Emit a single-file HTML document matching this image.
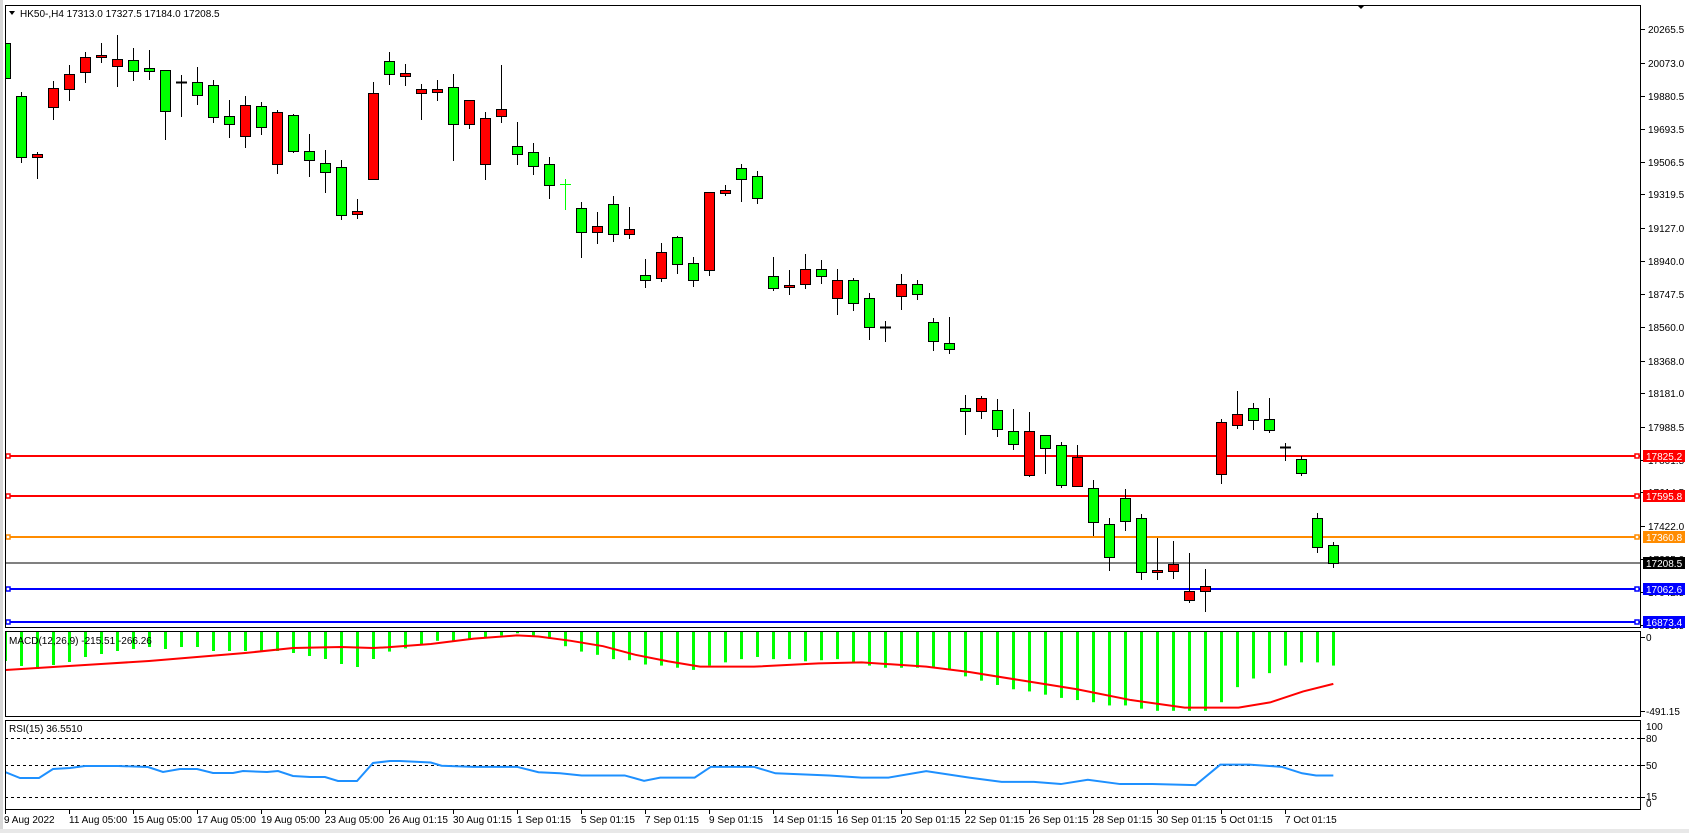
<!DOCTYPE html>
<html><head><meta charset="utf-8"><style>
html,body{margin:0;padding:0;background:#fff;}
svg{display:block;font-family:"Liberation Sans",Arial,sans-serif;font-size:10px;}
</style></head><body>
<svg id="s" width="1689" height="833" viewBox="0 0 1689 833" xmlns="http://www.w3.org/2000/svg">
<rect width="1689" height="833" fill="#fff"/>
<rect x="0" y="0" width="3" height="833" fill="#d8d8d8"/>
<rect x="0" y="829" width="1689" height="4" fill="#e8e8e8"/>
<defs><clipPath id="cm"><rect x="5.5" y="5.5" width="1635" height="622"/></clipPath>
<clipPath id="cd"><rect x="5.5" y="631.5" width="1635" height="85"/></clipPath>
<clipPath id="cr"><rect x="5.5" y="720.5" width="1635" height="89"/></clipPath></defs>
<g id="main" clip-path="url(#cm)"></g>
<g id="macd" clip-path="url(#cd)"></g>
<g id="rsi" clip-path="url(#cr)"></g>
<rect x="5.5" y="5.5" width="1635" height="622" fill="none" stroke="#000"/>
<rect x="5.5" y="631.5" width="1635" height="85" fill="none" stroke="#000"/>
<rect x="5.5" y="720.5" width="1635" height="89" fill="none" stroke="#000"/>
<g id="ticks" stroke="#000"></g>
<polygon points="9,11 15,11 12,15" fill="#000"/>
<text x="20" y="17">HK50-,H4  17313.0 17327.5 17184.0 17208.5</text>
<polygon points="1357,5 1365,5 1361,9" fill="#000"/>
<g fill="#000">
<text x="1648" y="33">20265.5</text><text x="1648" y="67">20073.0</text><text x="1648" y="100">19880.5</text>
<text x="1648" y="133">19693.5</text><text x="1648" y="166">19506.5</text><text x="1648" y="198">19319.5</text>
<text x="1648" y="232">19127.0</text><text x="1648" y="265">18940.0</text><text x="1648" y="298">18747.5</text>
<text x="1648" y="331">18560.0</text><text x="1648" y="365">18368.0</text><text x="1648" y="397">18181.0</text>
<text x="1648" y="431">17988.5</text><text x="1648" y="464">17801.5</text><text x="1648" y="496">17614.5</text>
<text x="1648" y="530">17422.0</text><text x="1648" y="563">17235.0</text><text x="1648" y="596">17042.5</text>
<text x="1648" y="629">16855.5</text>
<text x="1646" y="641">0</text><text x="1646" y="715">-491.15</text>
<text x="1646" y="730">100</text><text x="1646" y="742">80</text><text x="1646" y="769">50</text>
<text x="1646" y="800">15</text><text x="1646" y="807">0</text>
<text x="9" y="644">MACD(12,26,9) -215.51 -266.26</text>
<text x="9" y="732">RSI(15) 36.5510</text>
</g>
<g id="boxes"></g>
<g fill="#000">
<text x="4" y="823">9 Aug 2022</text>
<text x="69" y="823">11 Aug 05:00</text><text x="133" y="823">15 Aug 05:00</text><text x="197" y="823">17 Aug 05:00</text>
<text x="261" y="823">19 Aug 05:00</text><text x="325" y="823">23 Aug 05:00</text><text x="389" y="823">26 Aug 01:15</text>
<text x="453" y="823">30 Aug 01:15</text><text x="517" y="823">1 Sep 01:15</text><text x="581" y="823">5 Sep 01:15</text>
<text x="645" y="823">7 Sep 01:15</text><text x="709" y="823">9 Sep 01:15</text><text x="773" y="823">14 Sep 01:15</text>
<text x="837" y="823">16 Sep 01:15</text><text x="901" y="823">20 Sep 01:15</text><text x="965" y="823">22 Sep 01:15</text>
<text x="1029" y="823">26 Sep 01:15</text><text x="1093" y="823">28 Sep 01:15</text><text x="1157" y="823">30 Sep 01:15</text>
<text x="1221" y="823">5 Oct 01:15</text><text x="1285" y="823">7 Oct 01:15</text>
</g>
<g fill="#fff">
<rect x="1643" y="450" width="42" height="12" fill="#f00"/><text x="1646" y="460">17825.2</text>
<rect x="1643" y="490" width="42" height="12" fill="#f00"/><text x="1646" y="500">17595.8</text>
<rect x="1643" y="531" width="42" height="12" fill="#ff8c00"/><text x="1646" y="541">17360.8</text>
<rect x="1643" y="557" width="42" height="12" fill="#000"/><text x="1646" y="567">17208.5</text>
<rect x="1643" y="583" width="42" height="12" fill="#00f"/><text x="1646" y="593">17062.6</text>
<rect x="1643" y="616" width="42" height="12" fill="#00f"/><text x="1646" y="626">16873.4</text>
</g>
<script>
(function(){
var NS="http://www.w3.org/2000/svg";
function el(p,t,a){var e=document.createElementNS(NS,t);for(var k in a)e.setAttribute(k,a[k]);p.appendChild(e);return e;}
var M=document.getElementById('main'),D=document.getElementById('macd'),R=document.getElementById('rsi'),T=document.getElementById('ticks');
var c=[[43,78,43,88,'g'],[96,157,92,163,'g'],[154,157,152,179,'r'],[88,107,81,120,'r'],[74,89,65,101,'r'],[57,72,52,83,'r'],[55,57,43,63,'r'],[59,66,35,87,'r'],[60,71,48,81,'g'],[68,71,50,80,'g'],
[70,111,70,140,'g'],[82,82,75,117,'d'],[82,95,67,105,'g'],[85,117,80,123,'g'],[116,124,100,138,'g'],[105,136,96,148,'r'],[106,127,102,135,'g'],[112,164,110,174,'r'],[115,151,114,153,'g'],[151,160,134,177,'g'],
[163,172,150,193,'g'],[167,215,160,220,'g'],[211,214,199,219,'r'],[93,179,82,179,'r'],[61,74,52,85,'g'],[73,76,64,86,'r'],[89,93,84,120,'r'],[89,92,80,101,'r'],[87,124,74,161,'g'],[100,124,100,129,'r'],
[118,164,112,180,'r'],[109,116,65,123,'r'],[146,154,122,165,'g'],[152,166,143,175,'g'],[164,185,157,199,'g'],[184,184,179,210,'x'],[208,232,202,258,'g'],[226,232,212,244,'r'],[204,234,196,242,'g'],[229,234,207,239,'r'],
[275,280,259,288,'g'],[252,278,243,282,'r'],[237,264,236,274,'g'],[263,280,257,287,'g'],[192,270,192,276,'r'],[190,193,185,196,'r'],[168,179,164,202,'g'],[176,198,171,204,'g'],[276,288,257,291,'g'],[285,287,270,295,'r'],
[269,284,254,289,'r'],[269,276,260,284,'g'],[280,298,269,315,'r'],[280,303,278,311,'g'],[298,327,293,340,'g'],[327,327,321,342,'d'],[284,296,274,310,'r'],[284,294,280,300,'g'],[322,341,318,351,'g'],[343,349,317,354,'g'],
[408,411,395,435,'g'],[398,411,396,419,'r'],[410,429,399,437,'g'],[431,444,409,450,'g'],[431,475,412,477,'r'],[435,448,435,474,'g'],[445,485,442,488,'g'],[457,486,445,486,'r'],[488,522,480,536,'g'],[524,557,518,571,'g'],
[498,521,489,531,'g'],[518,572,514,580,'g'],[570,572,538,580,'r'],[564,571,541,579,'r'],[591,600,553,603,'r'],[586,591,569,612,'r'],[422,474,419,484,'r'],[414,425,391,429,'r'],[408,420,403,430,'g'],[419,430,398,433,'g'],
[447,447,443,461,'d'],[459,473,456,476,'g'],[518,547,513,553,'g'],[545,563,542,568,'g']];
[[456,'#f00',2],[496,'#f00',2],[537,'#ff8c00',2],[563,'#000',1],[589,'#00f',2],[622,'#00f',2]].forEach(function(l){
 el(M,'line',{x1:5,x2:1641,y1:l[0],y2:l[0],stroke:l[1],'stroke-width':l[2]});
 if(l[2]==2){el(M,'rect',{x:6,y:l[0]-2,width:4,height:4,fill:'#fff',stroke:l[1],'stroke-width':1.5});
 el(document.getElementById('boxes'),'rect',{x:1635,y:l[0]-2,width:4,height:4,fill:'#fff',stroke:l[1],'stroke-width':1.5});}
});
c.forEach(function(d,i){
 var x=5+16*i;
 var col=d[4]=='x'?'#00ff00':'#000';
 el(M,'line',{x1:x+0.5,x2:x+0.5,y1:d[2],y2:d[3],stroke:col,'stroke-width':1});
 if(d[4]=='d'||d[4]=='x'){el(M,'line',{x1:x-5,x2:x+6,y1:d[0]+0.5,y2:d[0]+0.5,stroke:col,'stroke-width':d[4]=='d'?2:1});}
 else{var h=Math.max(d[1]-d[0],2);el(M,'rect',{x:x-4.5,y:d[0]+0.5,width:10,height:h,fill:d[4]=='g'?'#00ff00':'#ff0000',stroke:'#000','stroke-width':1});}
});
var k=1.077;
var bars=[661,666,669,665,662,657,654,651,649,647,649,647,647,651,651,651,652,651,653,656,659,664,667,659];
[605,602,598,595,595,593,592,590,588,590,593,600,605,608,612,613,617,618,620,622,618,615,612,610,612,612,614,613,612,615,618,620,620,620,620,622,628,632,636,640,642,645,648,650,652,655,655,658,660,660,660,660,652,638,630,625,618,615,615,618].forEach(function(v){bars.push(v*k);});
bars.forEach(function(b,i){var x=5+16*i;el(D,'rect',{x:x-1,y:632,width:3,height:b-632,fill:'#00ff00'});});
var sig=[[5,670],[53,667],[101,664],[149,661],[197,657],[245,653],[293,648],[341,647],[373,648]];
[[360,601],[400,598],[440,593],[480,590],[500,591],[530,595],[560,600],[590,608],[620,614],[650,619],[700,619],[760,616],[800,615],[860,619],[900,624],[950,632],[1000,640],[1050,650],[1100,657],[1150,657],[1180,652],[1210,642],[1238,635]].forEach(function(p){sig.push([p[0]*k,p[1]*k]);});
el(D,'polyline',{points:sig.map(function(p){return p.join(',');}).join(' '),fill:'none',stroke:'#f00','stroke-width':2});
[738,765,797].forEach(function(y){el(R,'line',{x1:5,x2:1641,y1:y+0.5,y2:y+0.5,stroke:'#000','stroke-dasharray':'3,3'});});
var rs=[[5,772],[20,778],[39,778],[53,769],[70,768],[85,766],[118,766],[148,767],[163,772],[180,769],[197,769],[213,773],[233,773],[243,771],[267,772],[278,771],[293,776],[310,777],[325,777],[338,781],[357,781],[373,763],[390,761],[400,761]];
[[400,708],[410,711],[440,712],[480,712],[500,717],[520,718],[540,720],[580,720],[598,725],[613,722],[645,722],[660,712],[700,712],[720,718],[770,720],[800,722],[825,722],[860,716],[900,722],[930,726],[960,726],[985,728],[1010,724],[1040,728],[1070,728],[1110,729],[1133,710],[1160,710],[1190,712],[1209,718],[1222,720],[1238,720]].forEach(function(p){rs.push([p[0]*k,p[1]*k]);});
el(R,'polyline',{points:rs.map(function(p){return p.join(',');}).join(' '),fill:'none',stroke:'#1e90ff','stroke-width':2});
[28.9,62.6,96.2,128.9,161.6,194.3,228,260.7,294.3,327.1,360.7,393.3,427,459.7,492.4,526,558.7,592.4,625].forEach(function(y){el(T,'line',{x1:1641,x2:1645,y1:Math.round(y)+0.5,y2:Math.round(y)+0.5});});
[637,711].forEach(function(y){el(T,'line',{x1:1641,x2:1645,y1:y+0.5,y2:y+0.5});});
[738,765,797].forEach(function(y){el(T,'line',{x1:1641,x2:1645,y1:y+0.5,y2:y+0.5});});
for(var i=0;i<21;i++){var x=5+64*i+0.5;el(T,'line',{x1:x,x2:x,y1:810,y2:814});}
})();
</script>
</svg>
</body></html>
